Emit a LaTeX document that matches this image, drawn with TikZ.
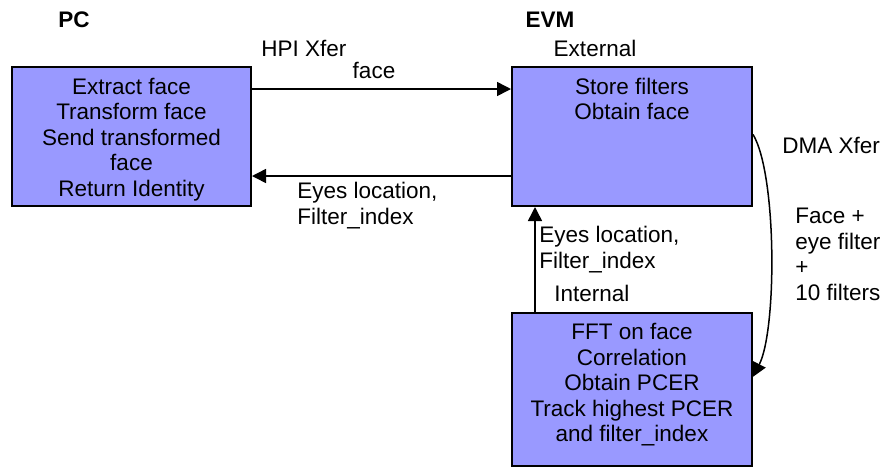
\documentclass[tikz,border=0pt]{standalone}
\usepackage{fontspec}
\setmainfont{Liberation Sans}
\usetikzlibrary{positioning,arrows.meta}
\definecolor{boxblue}{HTML}{9999FF}

\begin{document}
\begin{tikzpicture}[x=0.5pt,y=-0.5pt,font=\fontsize{11.25}{12.75}\selectfont,
  blk/.style={draw,line width=1pt,fill=boxblue,inner sep=0pt,minimum width=120pt},
  blktext/.style={align=center,inner sep=0pt,anchor=north},
  lbl/.style={align=left,inner sep=0pt,anchor=north west},
  arr/.style={line width=0.75pt,-{Triangle[length=7pt,width=7pt]}}]

\useasboundingbox (0,0) rectangle (883,468);

\node (pc) at (131.5,136.5)[blk,minimum width=119.5pt,minimum height=69.5pt]{};
\node (evm) at (632,136.5)[blk,minimum height=69.5pt]{};
\node (dsp) at (632,389.5)[blk,minimum height=76.5pt]{};

\node (pctext) [blktext,below=5.75pt of pc.north] {Extract face\\Transform face\\Send transformed\\face\\Return Identity};
\node (evmtext) [blktext,below=5.75pt of evm.north] {Store filters\\Obtain face};
\node (dsptext) [blktext,below=5.5pt of dsp.north] {FFT on face\\Correlation\\Obtain PCER\\Track highest PCER\\and filter\_index};

\node (pclbl) at (74,20) {\bfseries PC};
\node (evmlbl) at (550,20) {\bfseries EVM};

\node (hpi) [lbl] at (261,40) {HPI Xfer};
\node (facelbl) [anchor=north,inner sep=0pt] at (374,62) {face};
\node (ext) [anchor=north,inner sep=0pt] at (595,40) {External};
\node (eyes1) [lbl] at (297,182) {Eyes location,\\Filter\_index};
\node (eyes2) [lbl] at (539,226) {Eyes location,\\Filter\_index};
\node (intl) [lbl] at (554,285) {Internal};
\node (dma) [lbl] at (782,137) {DMA Xfer};
\node (load) [lbl] at (795,208) {Face +\\eye filter\\+\\10 filters};

% links
\draw[arr] ([yshift=-11.5pt]pc.north east) -- ([yshift=-11.5pt]evm.north west);
\draw[arr] ([yshift=15.5pt]evm.south west) -- ([yshift=15.5pt]pc.south east);
\draw[arr] ([xshift=12pt]dsp.north west) -- ([xshift=12pt]evm.south west);
\draw[arr] (evm.1) .. controls +(24,40) and +(24,-47) .. (dsp.6);

\end{tikzpicture}
\end{document}
